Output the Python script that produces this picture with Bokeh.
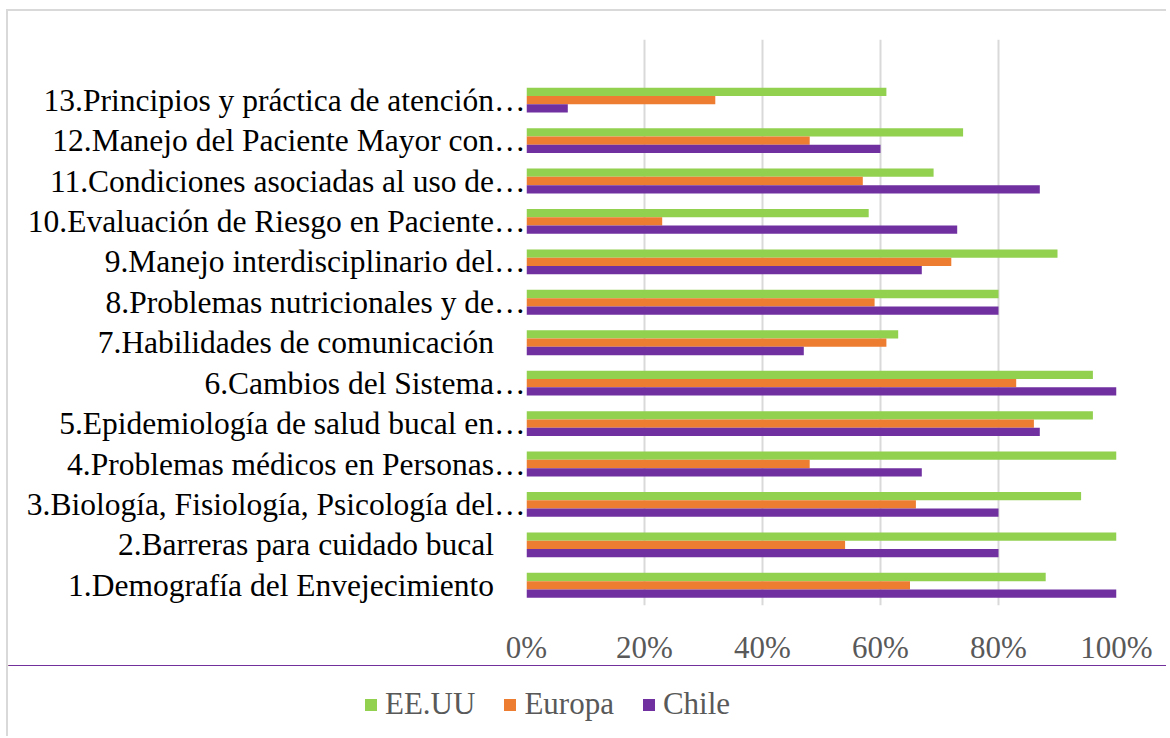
from bokeh.plotting import figure
from bokeh.models import Range1d, FixedTicker, Legend, LegendItem, ColumnDataSource
from bokeh.transform import dodge
from bokeh.embed import file_html
from bokeh.resources import INLINE

categories = [
    "1.Demografía del Envejecimiento",
    "2.Barreras para cuidado bucal",
    "3.Biología, Fisiología, Psicología del…",
    "4.Problemas médicos en Personas…",
    "5.Epidemiología de salud bucal en…",
    "6.Cambios del Sistema…",
    "7.Habilidades de comunicación",
    "8.Problemas nutricionales y de…",
    "9.Manejo interdisciplinario del…",
    "10.Evaluación de Riesgo en Paciente…",
    "11.Condiciones asociadas al uso de…",
    "12.Manejo del Paciente Mayor con…",
    "13.Principios y práctica de atención…",
]
eeuu = [88, 100, 94, 100, 96, 96, 63, 80, 90, 58, 69, 74, 61]
europa = [65, 54, 66, 48, 86, 83, 61, 59, 72, 23, 57, 48, 32]
chile = [100, 80, 80, 67, 87, 100, 47, 80, 67, 73, 87, 60, 7]
series_names = ["EE.UU", "Europa", "Chile"]
colors = ["#92d050", "#ed7d31", "#7030a0"]
x_ticks = [0, 20, 40, 60, 80, 100]

pos = list(range(1, len(categories) + 1))
src = ColumnDataSource(dict(y=pos, eeuu=eeuu, europa=europa, chile=chile))
src2 = ColumnDataSource(dict(y=pos, eeuu=eeuu, europa=europa, chile=chile))

# labels without an ellipsis end a little further left in the reference
def shown(lab):
    return lab if lab.endswith("…") else lab + "\u00a0" * 4

W = 1160
p = figure(width=W, height=656, output_backend="svg", toolbar_location=None,
           x_range=Range1d(0, 100), y_range=Range1d(0.5, 14.5),
           min_border_left=518, min_border_right=W - 518 - 590,
           min_border_top=28, min_border_bottom=62)
p.styles = {"border-left": "2px solid #d9d9d9", "border-top": "2px solid #d9d9d9",
            "margin-left": "6px", "margin-top": "9px"}
p.outline_line_color = None
p.background_fill_color = "white"
p.border_fill_color = "white"

bh = 0.205
cols = ["eeuu", "europa", "chile"]
offs = [bh, 0.0, -bh]
for c, o, col in zip(cols, offs, colors):
    p.hbar(y=dodge("y", o, range=p.y_range), left=0, right=c, height=bh,
           source=src, fill_color=col, line_color=None)

p.xaxis.ticker = FixedTicker(ticks=x_ticks)
p.xaxis.major_label_overrides = {t: f"{t}%" for t in x_ticks}
p.xaxis.major_label_text_font = "Liberation Serif"
p.xaxis.major_label_text_font_size = "31px"
p.xaxis.major_label_text_color = "#595959"
p.xaxis.major_label_standoff = 18
p.xaxis.axis_line_color = None
p.xaxis.major_tick_line_color = None
p.xaxis.minor_tick_line_color = None

p.yaxis.ticker = FixedTicker(ticks=pos)
p.yaxis.major_label_overrides = {i: shown(lab) for i, lab in zip(pos, categories)}
p.yaxis.major_label_text_font = "Liberation Serif"
p.yaxis.major_label_text_font_size = "31.5px"
p.yaxis.major_label_text_color = "black"
p.yaxis.major_label_standoff = -5
p.yaxis.axis_line_color = None
p.yaxis.major_tick_line_color = None
p.yaxis.minor_tick_line_color = None

p.xgrid.ticker = FixedTicker(ticks=x_ticks)
p.xgrid.grid_line_color = "#d9d9d9"
p.xgrid.grid_line_width = 2
p.ygrid.grid_line_color = None

# legend strip under the chart (separate root, transparent so nothing is hidden)
p2 = figure(width=W, height=71, output_backend="svg", toolbar_location=None,
            x_range=Range1d(0, 1), y_range=Range1d(-2, -1),
            x_axis_location=None, y_axis_location=None,
            min_border_left=0, min_border_right=0, min_border_top=0, min_border_bottom=0)
p2.styles = {"border-left": "2px solid #d9d9d9", "margin-left": "6px"}
p2.grid.visible = False
p2.outline_line_color = None
p2.background_fill_alpha = 0
p2.border_fill_alpha = 0
leg_renderers = []
for c, col in zip(cols, colors):
    r = p2.hbar(y="y", left=0, right=c, height=bh, source=src2,
                fill_color=col, line_color=None)
    leg_renderers.append(r)

legend = Legend(items=[LegendItem(label=n, renderers=[r]) for n, r in zip(series_names, leg_renderers)],
                orientation="horizontal", location=(355, 14))
legend.label_text_font = "Liberation Serif"
legend.label_text_font_size = "31px"
legend.label_text_color = "#595959"
legend.glyph_width = 15
legend.glyph_height = 15
legend.label_standoff = 7
legend.spacing = 27
legend.border_line_color = None
legend.background_fill_alpha = 0
legend.padding = 0
legend.margin = 0
p2.add_layout(legend, "center")

open("out.html", "w").write(file_html([p, p2], INLINE))
